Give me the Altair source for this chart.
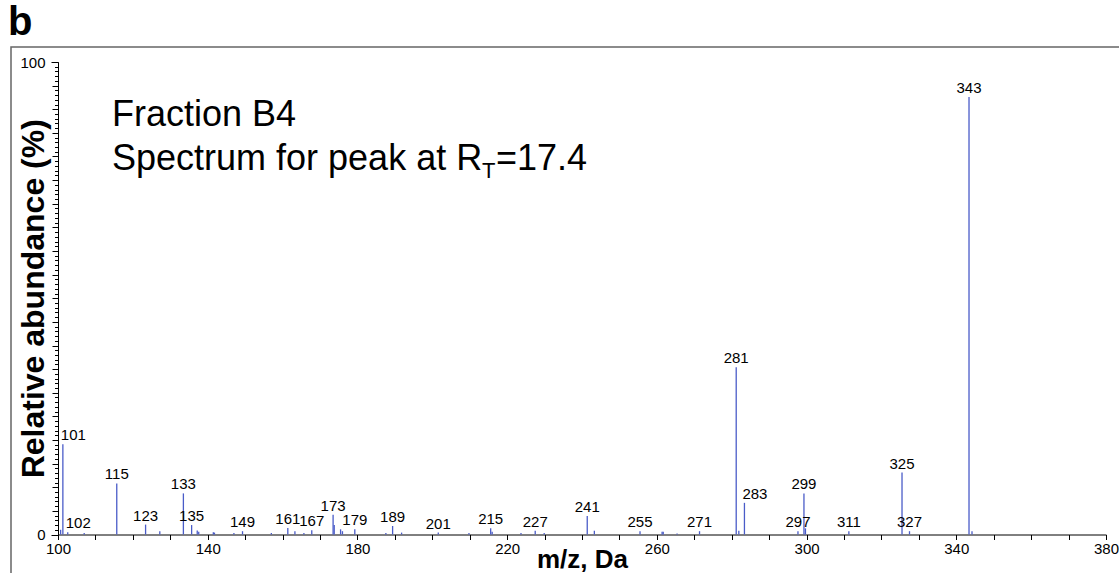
import altair as alt
import pandas as pd

# ---- data ----
mz = [100.7, 101.3, 102.6, 107.0, 115.7, 123.4, 127.2, 133.5, 135.7, 137.2,
      137.6, 141.5, 141.8, 147.0, 149.3, 157.0, 161.4, 163.3, 165.7, 167.8,
      173.5, 173.8, 175.5, 176.0, 179.3, 187.6, 189.4, 191.8, 201.6, 209.8,
      215.6, 216.0, 223.7, 227.5, 229.9, 241.4, 243.3, 255.5, 261.4, 261.7,
      265.4, 271.4, 281.2, 281.9, 283.4, 297.7, 299.3, 299.7, 311.3, 325.5,
      327.5, 343.4, 344.2]
abundance = [1.0, 19.1, 0.5, 0.3, 10.8, 2.1, 0.7, 8.7, 2.0, 0.85,
             0.6, 0.5, 0.4, 0.3, 0.7, 0.3, 1.4, 0.7, 0.3, 0.9,
             4.2, 2.0, 1.1, 0.7, 1.1, 0.3, 1.8, 0.4, 0.4, 0.3,
             1.3, 0.6, 0.3, 0.8, 0.3, 3.9, 0.8, 0.7, 0.6, 0.6,
             0.2, 0.7, 35.4, 0.8, 6.7, 0.7, 8.7, 1.3, 0.7, 13.1,
             0.7, 92.6, 0.7]
peak_label = ["", "101", "102", "", "115", "123", "", "133", "135", "",
              "", "", "", "", "149", "", "161", "", "", "167",
              "173", "", "", "", "179", "", "189", "", "201", "",
              "215", "", "", "227", "", "241", "", "255", "", "",
              "", "271", "281", "", "283", "297", "299", "", "311", "325",
              "327", "343", ""]

x_ticks = list(range(100, 381, 10))
y_labels = [0, 100]
y_minor = list(range(0, 101, 1))

FONT = "Liberation Sans"
BLUE = "#4a5cc8"
W, H = 1048, 472.5

df = pd.DataFrame({"mz": mz, "abundance": abundance, "label": peak_label})
one = pd.DataFrame({"k": [0]})

x_scale = alt.Scale(domain=[100, 380], nice=False, zero=False)
y_scale = alt.Scale(domain=[0, 100], nice=False)

x_axis = alt.Axis(
    values=x_ticks,
    labelExpr="(datum.value - 100) % 40 === 0 ? datum.label : ''",
    tickSize=5, tickColor="black", domainColor="black", grid=False,
    labelFont=FONT, labelFontSize=15, labelColor="black", labelPadding=2,
    labelOverlap=False, labelFlush=False,
    title="m/z, Da", titleFont=FONT, titleFontSize=26, titleFontWeight="bold",
    titleColor="black", titleBaseline="alphabetic", titleY=32.5,
)
y_axis_main = alt.Axis(
    values=y_labels, orient="left",
    tickSize=7, tickColor="black", domainColor="black", grid=False,
    labelFont=FONT, labelFontSize=15, labelColor="black", labelPadding=6,
    labelOverlap=False, labelFlush=False,
    title="Relative abundance (%)", titleFont=FONT, titleFontSize=32,
    titleFontWeight="bold", titleColor="black", titleAngle=270,
    titleBaseline="alphabetic", titleX=-15, titleY=H / 2, titleAlign="center",
)
y_axis_minor = alt.Axis(
    values=y_minor, orient="left", labels=False, domain=False, grid=False,
    tickSize={"condition": {"test": "datum.value % 5 === 0", "value": 6}, "value": 3.5},
    tickColor="black", title=None,
)

frame = alt.Chart(one).mark_rect(fill="transparent", stroke="#666666", strokeWidth=1.5).encode(
    x=alt.value(-47), x2=alt.value(1080), y=alt.value(-15), y2=alt.value(540)
)

minor = alt.Chart(df).mark_rule(opacity=0).encode(
    x=alt.X("mz:Q", scale=x_scale, axis=x_axis),
    y=alt.Y("abundance:Q", scale=y_scale, axis=y_axis_minor),
    y2=alt.datum(0),
)

bars = alt.Chart(df).mark_rule(color=BLUE, strokeWidth=1.3).encode(
    x=alt.X("mz:Q", scale=x_scale, axis=x_axis),
    y=alt.Y("abundance:Q", scale=y_scale, axis=y_axis_main),
    y2=alt.datum(0),
)

labelled = df[df["label"] != ""]
left_set = ["101", "102", "283"]
lab_center = alt.Chart(labelled[~labelled["label"].isin(left_set)]).mark_text(
    font=FONT, fontSize=15, color="black", align="center", baseline="alphabetic", dy=-4
).encode(
    x=alt.X("mz:Q", scale=x_scale, axis=x_axis),
    y=alt.Y("abundance:Q", scale=y_scale, axis=None),
    text="label:N",
)
lab_left = alt.Chart(labelled[labelled["label"].isin(left_set)]).mark_text(
    font=FONT, fontSize=15, color="black", align="left", baseline="alphabetic", dx=-2, dy=-4
).encode(
    x=alt.X("mz:Q", scale=x_scale, axis=x_axis),
    y=alt.Y("abundance:Q", scale=y_scale, axis=None),
    text="label:N",
)

panel = alt.Chart(one).mark_text(
    text="b", font=FONT, fontSize=40, fontWeight="bold", align="left", baseline="alphabetic", color="black"
).encode(x=alt.value(-50), y=alt.value(-27))

t1 = alt.Chart(one).mark_text(
    text="Fraction B4", font=FONT, fontSize=36, align="left", baseline="alphabetic", color="black"
).encode(x=alt.value(54), y=alt.value(64))
t2 = alt.Chart(one).mark_text(
    text="Spectrum for peak at R", font=FONT, fontSize=36, align="left", baseline="alphabetic", color="black"
).encode(x=alt.value(54), y=alt.value(108))
t2sub = alt.Chart(one).mark_text(
    text="T", font=FONT, fontSize=22, align="left", baseline="alphabetic", color="black"
).encode(x=alt.value(424), y=alt.value(116))
t2end = alt.Chart(one).mark_text(
    text="=17.4", font=FONT, fontSize=36, align="left", baseline="alphabetic", color="black"
).encode(x=alt.value(438), y=alt.value(108))

chart = alt.layer(frame, minor, bars, lab_center, lab_left, panel, t1, t2, t2sub, t2end).resolve_axis(
    y="independent"
).properties(
    width=W, height=H,
    autosize=alt.AutoSizeParams(type="none"),
    padding={"left": 58, "top": 62, "right": 13, "bottom": 38.5},
    background="white",
).configure_view(stroke=None)

chart.save("out.html", embed_options={"renderer": "svg", "actions": False})
